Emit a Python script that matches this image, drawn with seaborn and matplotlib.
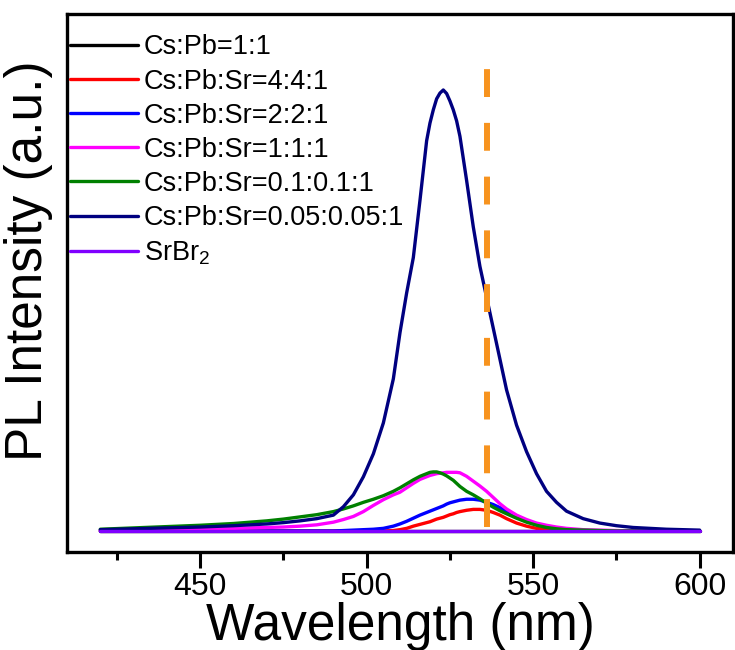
import matplotlib
matplotlib.use("Agg")
import matplotlib.pyplot as plt
import pandas as pd
import seaborn as sns

# ---------------- data ----------------
wavelength = [420, 430, 440, 450, 460, 470, 475, 480, 485, 490, 493, 496, 499, 502,
              505, 508, 510, 512, 514, 516, 518, 519, 520, 521, 522, 523, 524, 525,
              526, 527, 528, 530, 532, 534, 536, 538, 540, 542, 545, 548, 551, 554,
              557, 560, 565, 570, 575, 580, 590, 600]

cs_pb_1_1 = [0, 0, 0, 0, 0, 0, 0, 0, 0, 0, 0, 0, 0, 0, 0, 0, 0, 0, 0, 0, 0, 0, 0, 0, 0,
             0, 0, 0, 0, 0, 0, 0, 0, 0, 0, 0, 0, 0, 0, 0, 0, 0, 0, 0, 0, 0, 0, 0, 0, 0]

sr_4_4_1 = [0, 0, 0, 0, 0, 0, 0, 0, 0, 0, 0, 0, 0, 0, 0,
            0.001, 0.003, 0.006, 0.011, 0.015, 0.019, 0.021, 0.024, 0.027, 0.029,
            0.031, 0.034, 0.037, 0.039, 0.042, 0.044, 0.047, 0.049, 0.049, 0.047,
            0.042, 0.036, 0.028, 0.018, 0.011, 0.006, 0.003, 0.001, 0, 0, 0, 0, 0, 0, 0]

sr_2_2_1 = [0, 0, 0, 0, 0, 0, 0, 0, 0, 0,
            0.001, 0.002, 0.003, 0.004, 0.006, 0.011, 0.016, 0.022, 0.029, 0.036,
            0.042, 0.045, 0.048, 0.051, 0.054, 0.057, 0.061, 0.064, 0.066, 0.068,
            0.070, 0.072, 0.072, 0.070, 0.065, 0.060, 0.053, 0.045, 0.034, 0.023,
            0.015, 0.009, 0.005, 0.003, 0.001, 0, 0, 0, 0, 0]

sr_1_1_1 = [0.002, 0.003, 0.004, 0.005, 0.006, 0.008, 0.009, 0.011, 0.014, 0.020,
            0.026, 0.033, 0.044, 0.058, 0.071, 0.082, 0.088, 0.098, 0.108, 0.117,
            0.123, 0.126, 0.128, 0.130, 0.131, 0.132, 0.133, 0.133, 0.133, 0.133,
            0.132, 0.124, 0.113, 0.102, 0.090, 0.076, 0.062, 0.050, 0.036, 0.026,
            0.018, 0.013, 0.009, 0.006, 0.003, 0.002, 0.001, 0, 0, 0]

sr_01_01_1 = [0.004, 0.007, 0.010, 0.013, 0.017, 0.023, 0.027, 0.032, 0.037, 0.044,
              0.050, 0.057, 0.065, 0.072, 0.080, 0.090, 0.098, 0.107, 0.116, 0.124,
              0.130, 0.133, 0.134, 0.134, 0.132, 0.129, 0.125, 0.120, 0.115, 0.108,
              0.101, 0.090, 0.082, 0.073, 0.063, 0.054, 0.046, 0.039, 0.029, 0.020,
              0.013, 0.008, 0.005, 0.003, 0.002, 0.001, 0, 0, 0, 0]

sr_005_005_1 = [0.003, 0.005, 0.007, 0.009, 0.012, 0.016, 0.019, 0.023, 0.028, 0.036,
                0.055, 0.082, 0.123, 0.175, 0.245, 0.345, 0.45, 0.54, 0.62, 0.75,
                0.885, 0.925, 0.955, 0.98, 0.993, 1.0, 0.992, 0.975, 0.955, 0.93,
                0.895, 0.795, 0.69, 0.60, 0.53, 0.46, 0.39, 0.32, 0.24, 0.18,
                0.13, 0.09, 0.065, 0.045, 0.028, 0.018, 0.012, 0.008, 0.004, 0.002]

srbr2 = [0, 0, 0, 0, 0, 0, 0, 0, 0, 0, 0, 0, 0, 0, 0, 0, 0, 0, 0, 0, 0, 0, 0, 0, 0,
         0, 0, 0, 0, 0, 0, 0, 0, 0, 0, 0, 0, 0, 0, 0, 0, 0, 0, 0, 0, 0, 0, 0, 0, 0]

series_labels = ["Cs:Pb=1:1", "Cs:Pb:Sr=4:4:1", "Cs:Pb:Sr=2:2:1", "Cs:Pb:Sr=1:1:1",
                 "Cs:Pb:Sr=0.1:0.1:1", "Cs:Pb:Sr=0.05:0.05:1", "SrBr$_2$"]
series_values = [cs_pb_1_1, sr_4_4_1, sr_2_2_1, sr_1_1_1, sr_01_01_1, sr_005_005_1, srbr2]
series_colors = ["#000000", "#FF0000", "#0000FF", "#FF00FF", "#008000", "#000080", "#8000FF"]

marker_wavelength = 536
x_ticks = [450, 500, 550, 600]
x_minor_ticks = [425, 475, 525, 575]

# ---------------- build table ----------------
rows = []
for lab, vals in zip(series_labels, series_values):
    assert len(vals) == len(wavelength), (lab, len(vals))
    for w, v in zip(wavelength, vals):
        rows.append({"Wavelength": w, "Intensity": v, "Sample": lab})
df = pd.DataFrame(rows)

# ---------------- style ----------------
sns.set_style("white")
plt.rcParams["font.family"] = ["Liberation Sans", "DejaVu Sans"]
plt.rcParams["mathtext.fontset"] = "custom"
plt.rcParams["mathtext.rm"] = "Liberation Sans"
plt.rcParams["mathtext.default"] = "regular"
plt.rcParams["text.color"] = "black"
plt.rcParams["axes.labelcolor"] = "black"
plt.rcParams["xtick.color"] = "black"
plt.rcParams["ytick.color"] = "black"

fig = plt.figure(figsize=(7.35, 6.5), dpi=100)
ax = fig.add_axes([67 / 735, 1 - 552 / 650, 666 / 735, 538 / 650])

sns.lineplot(data=df, x="Wavelength", y="Intensity", hue="Sample",
             hue_order=series_labels, palette=series_colors,
             estimator=None, sort=False, linewidth=2.4, ax=ax)

ax.axvline(marker_wavelength, ymin=25 / 538, ymax=485 / 538, color="#F7931E",
           linewidth=4.3, dashes=(28 / 6, 26 / 6))

ax.set_xlim(410, 610)
ax.set_ylim(-21 / 441, 517 / 441)
ax.set_xticks(x_ticks)
ax.set_xticks(x_minor_ticks, minor=True)
ax.set_yticks([])
ax.tick_params(axis="x", which="major", direction="out", length=11.5, width=2.2,
               labelsize=23, pad=3, colors="black")
ax.tick_params(axis="x", which="minor", direction="out", length=5.8, width=2.2)
ax.tick_params(axis="x", which="both", bottom=True, top=False)

for sp in ax.spines.values():
    sp.set_visible(True)
    sp.set_color("black")
    sp.set_linewidth(2.4)

ax.set_xlabel("Wavelength (nm)", fontsize=37, labelpad=0)
ax.set_ylabel("PL Intensity (a.u.)", fontsize=37)
ax.yaxis.set_label_coords(-0.021, 0.541)

sns.move_legend(ax, "upper left", bbox_to_anchor=(0.0045, 0.962), frameon=False,
                title="", fontsize=19.5, handlelength=2.5, handletextpad=0.22,
                labelspacing=0.3, borderaxespad=0, borderpad=0)
leg = ax.get_legend()
for line in leg.get_lines():
    line.set_linewidth(2.4)

fig.savefig("out.png", dpi=100, facecolor="white")
